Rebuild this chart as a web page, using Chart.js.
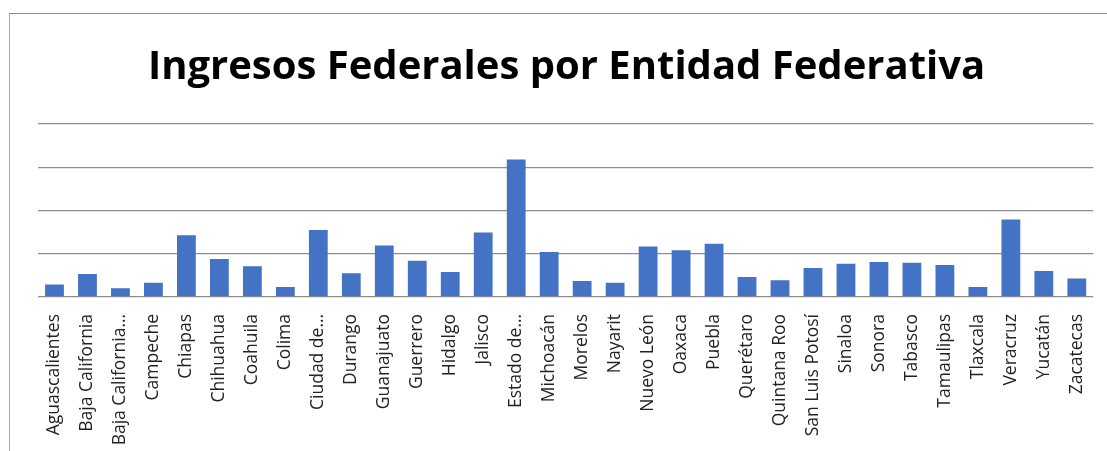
<!DOCTYPE html>
<html>
<head>
<meta charset="utf-8">
<script src="https://cdn.jsdelivr.net/npm/chart.js@4"></script>
<style>
  html, body { margin: 0; padding: 0; background: #fff; overflow: hidden; }
  #frame {
    position: absolute; left: 9px; top: 13px; width: 1200px; height: 500px;
    border-top: 1.5px solid #8c8c8c; border-left: 1.5px solid #a6a6a6;
  }
  #wrap { position: absolute; left: 0; top: 0; width: 1107px; height: 451px; }
</style>
</head>
<body>
<div id="frame"></div>
<div id="wrap"><canvas id="chart"></canvas></div>
<script>
// Entidades (labels as shown, truncated ones included)
const entidades = [
    'Aguascalientes', 'Baja California', 'Baja California…', 'Campeche', 'Chiapas',
    'Chihuahua', 'Coahuila', 'Colima', 'Ciudad de…', 'Durango', 'Guanajuato',
    'Guerrero', 'Hidalgo', 'Jalisco', 'Estado de…', 'Michoacán', 'Morelos',
    'Nayarit', 'Nuevo León', 'Oaxaca', 'Puebla', 'Querétaro', 'Quintana Roo',
    'San Luis Potosí', 'Sinaloa', 'Sonora', 'Tabasco', 'Tamaulipas', 'Tlaxcala',
    'Veracruz', 'Yucatán', 'Zacatecas'
];

// Ingresos (arbitrary units)
const ingresos = [
    14.5, 26.5, 10, 16.5, 71.5,
    44, 35.5, 11.5, 77.5, 27.5, 59.5,
    42, 29, 74.5, 159, 52, 18.5,
    16.5, 58.5, 54, 61.5, 23, 19.5,
    33.5, 38.5, 40.5, 39.5, 37, 11.5,
    89.5, 30, 21.5
];

const yMax = 200;
const yStep = 50;

const ctx = document.getElementById('chart').getContext('2d');
new Chart(ctx, {
    type: 'bar',
    data: {
        labels: entidades,
        datasets: [{
            label: 'Ingresos',
            data: ingresos,
            backgroundColor: '#4472C4',
            borderWidth: 0,
            categoryPercentage: 1.0,
            barPercentage: 0.57
        }]
    },
    options: {
        responsive: true,
        maintainAspectRatio: false,
        animation: false,
        layout: { padding: { left: 38, right: 12, top: 0, bottom: 0 } },
        scales: {
            x: {
                grid: { display: false },
                border: { display: false },
                ticks: {
                    color: '#222',
                    font: { family: 'Open Sans', size: 17.5 },
                    minRotation: 90,
                    maxRotation: 90,
                    autoSkip: false,
                    padding: 9
                },
                afterFit: (scale) => { scale.height = 154; }
            },
            y: {
                min: 0,
                max: yMax,
                ticks: { display: false, stepSize: yStep },
                grid: { color: '#8f8f8f', lineWidth: 1.3, drawTicks: false },
                border: { display: false },
                afterFit: (scale) => { scale.width = 0; }
            }
        },
        plugins: {
            legend: { display: false },
            tooltip: { enabled: false },
            title: {
                display: true,
                text: 'Ingresos Federales por Entidad Federativa',
                color: '#000',
                font: { family: 'Open Sans', size: 40, weight: 'bold' },
                padding: { top: 44, bottom: 32 }
            }
        }
    }
});
</script>
</body>
</html>
